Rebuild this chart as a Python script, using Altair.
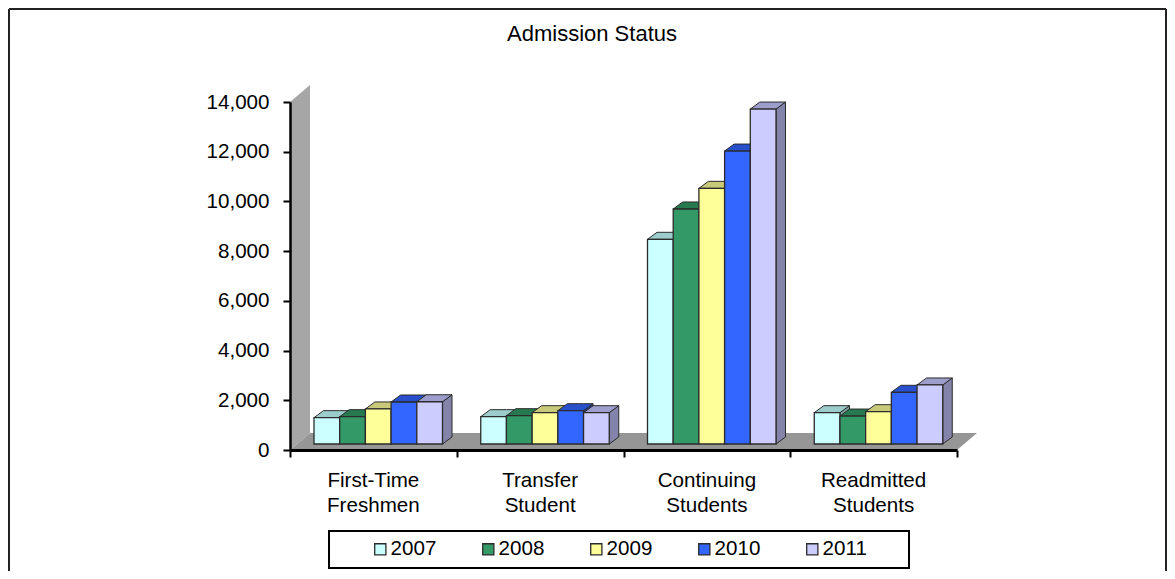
import altair as alt
import pandas as pd

title_text = "Admission Status"
categories = ["First-Time\nFreshmen", "Transfer\nStudent", "Continuing\nStudents", "Readmitted\nStudents"]
years = ["2007", "2008", "2009", "2010", "2011"]
values = {
    "2007": [1060, 1100, 8235, 1260],
    "2008": [1100, 1140, 9455, 1125],
    "2009": [1410, 1260, 10285, 1300],
    "2010": [1690, 1340, 11785, 2080],
    "2011": [1700, 1260, 13475, 2375],
}
front_colors = ["#CCFFFF", "#339966", "#FFFF99", "#3366FF", "#CCCCFF"]
top_colors = ["#9CCCCC", "#27794F", "#C9C97A", "#2950CC", "#9E9ECC"]
side_colors = ["#7FA3A3", "#1F5F3E", "#A3A363", "#1F3D99", "#8484AA"]
ticks = [0, 2000, 4000, 6000, 8000, 10000, 12000, 14000]

W, H, YMAX = 667, 348, 14000
px_x = 4 / W
px_y = YMAX / H
bar_w = 25.7 * px_x
first = 24 * px_x
dx, dy = 9.5 * px_x, 7 * px_y
base = 6 * px_y
wall_dx, wall_dy = 20 * px_x, 17 * px_y

fronts, tops, sides = [], [], []
for c in range(len(categories)):
    for s, yr in enumerate(years):
        v = values[yr][c]
        x0 = c + first + s * bar_w
        x1 = x0 + bar_w
        lo, hi = base, base + v
        k = f"{c}-{s}"
        fronts.append(dict(x=x0, x2=x1, y=lo, y2=hi, year=yr))
        for xx, a, b in [(x0, hi, hi), (x0 + dx, hi + dy, hi), (x1, hi + dy, hi), (x1 + dx, hi + dy, hi + dy)]:
            tops.append(dict(x=xx, y=a, y2=b, k=k, col=top_colors[s]))
        for xx, a, b in [(x1, hi, lo), (x1 + dx, hi + dy, lo + dy)]:
            sides.append(dict(x=xx, y=a, y2=b, k=k, col=side_colors[s]))

wall = pd.DataFrame([dict(x=0, y=YMAX, y2=0), dict(x=wall_dx, y=YMAX + wall_dy, y2=wall_dy)])
floor = pd.DataFrame([
    dict(x=0, y=0, y2=0), dict(x=wall_dx, y=wall_dy, y2=0),
    dict(x=4, y=wall_dy, y2=0), dict(x=4 + wall_dx, y=wall_dy, y2=wall_dy),
])
labels = pd.DataFrame(dict(x=[i + 0.5 for i in range(4)], t=categories))
one = pd.DataFrame({"a": [0]})

FONT = "Liberation Sans"
STROKE = "#2b2b2b"
FS = 20.6
xs = alt.Scale(domain=[0, 4], nice=False, zero=False)
ys = alt.Scale(domain=[0, YMAX], nice=False, zero=False)
x_axis = alt.Axis(values=[0, 1, 2, 3, 4], labels=False, title=None, grid=False, tickSize=7, tickWidth=2,
                  tickColor="black", domainWidth=3, domainColor="black", zindex=1)
y_axis = alt.Axis(values=ticks, labelExpr="format(datum.value, ',')", title=None, grid=False, tickSize=7,
                  tickWidth=2, tickColor="black", domainWidth=2.5, domainColor="black", labelFont=FONT,
                  labelFontSize=FS, labelColor="black", labelPadding=14, zindex=1)
X = alt.X("x:Q", scale=xs, axis=x_axis)
Y = alt.Y("y:Q", scale=ys, axis=y_axis)

wall_l = alt.Chart(wall).mark_area(color="#A6A6A6").encode(x=X, y=Y, y2="y2:Q")
floor_l = alt.Chart(floor).mark_area(color="#969696").encode(x=X, y=Y, y2="y2:Q")
side_l = alt.Chart(pd.DataFrame(sides)).mark_area(stroke=STROKE, strokeWidth=1).encode(
    x=X, y=Y, y2="y2:Q", detail="k:N", fill=alt.Fill("col:N", scale=None))
top_l = alt.Chart(pd.DataFrame(tops)).mark_area(stroke=STROKE, strokeWidth=1).encode(
    x=X, y=Y, y2="y2:Q", detail="k:N", fill=alt.Fill("col:N", scale=None))
front_l = alt.Chart(pd.DataFrame(fronts)).mark_rect(stroke=STROKE, strokeWidth=1.3).encode(
    x=X, x2="x2:Q", y=Y, y2="y2:Q",
    fill=alt.Fill("year:N", scale=alt.Scale(domain=years, range=front_colors), legend=alt.Legend(
        title=None, orient="none", legendX=80, legendY=437, direction="horizontal", columns=5,
        columnPadding=41, symbolType="square", symbolSize=125, symbolStrokeColor="black",
        symbolStrokeWidth=1.3, labelFont=FONT, labelFontSize=FS, labelColor="black", labelOffset=0,
        padding=0, symbolOffset=0)),
)
text_l = alt.Chart(labels).mark_text(font=FONT, fontSize=FS, color="black", lineBreak="\n", lineHeight=25,
                                     baseline="top", align="center").encode(x=alt.X("x:Q", scale=xs, axis=x_axis),
                                                                            y=alt.value(369), text="t:N")
title_l = alt.Chart(pd.DataFrame({"t": [title_text]})).mark_text(
    font=FONT, fontSize=22, color="black", baseline="middle", align="center"
).encode(x=alt.value(302), y=alt.value(-68), text="t:N")

box = alt.Chart(one).mark_rect(fill="white", stroke="black", strokeWidth=2).encode(
    x=alt.value(39), x2=alt.value(619), y=alt.value(429), y2=alt.value(466))
frame_top = alt.Chart(one).mark_rule(color="#222222", strokeWidth=2).encode(
    x=alt.value(-281), x2=alt.value(876), y=alt.value(-93))
frame_l = alt.Chart(one).mark_rule(color="#222222", strokeWidth=2).encode(
    x=alt.value(-281), y=alt.value(-93), y2=alt.value(469))
frame_r = alt.Chart(one).mark_rule(color="#222222", strokeWidth=2).encode(
    x=alt.value(876), y=alt.value(-93), y2=alt.value(469))

chart = alt.layer(
    frame_top, frame_l, frame_r, box, title_l, wall_l, floor_l, side_l, top_l, front_l, text_l
).properties(
    width=W, height=H,
    autosize=alt.AutoSizeParams(type="none"),
    padding={"left": 282, "top": 94, "right": 210, "bottom": 121},
).configure_view(stroke=None)

chart.save("out.html", embed_options={"renderer": "svg", "actions": False})
